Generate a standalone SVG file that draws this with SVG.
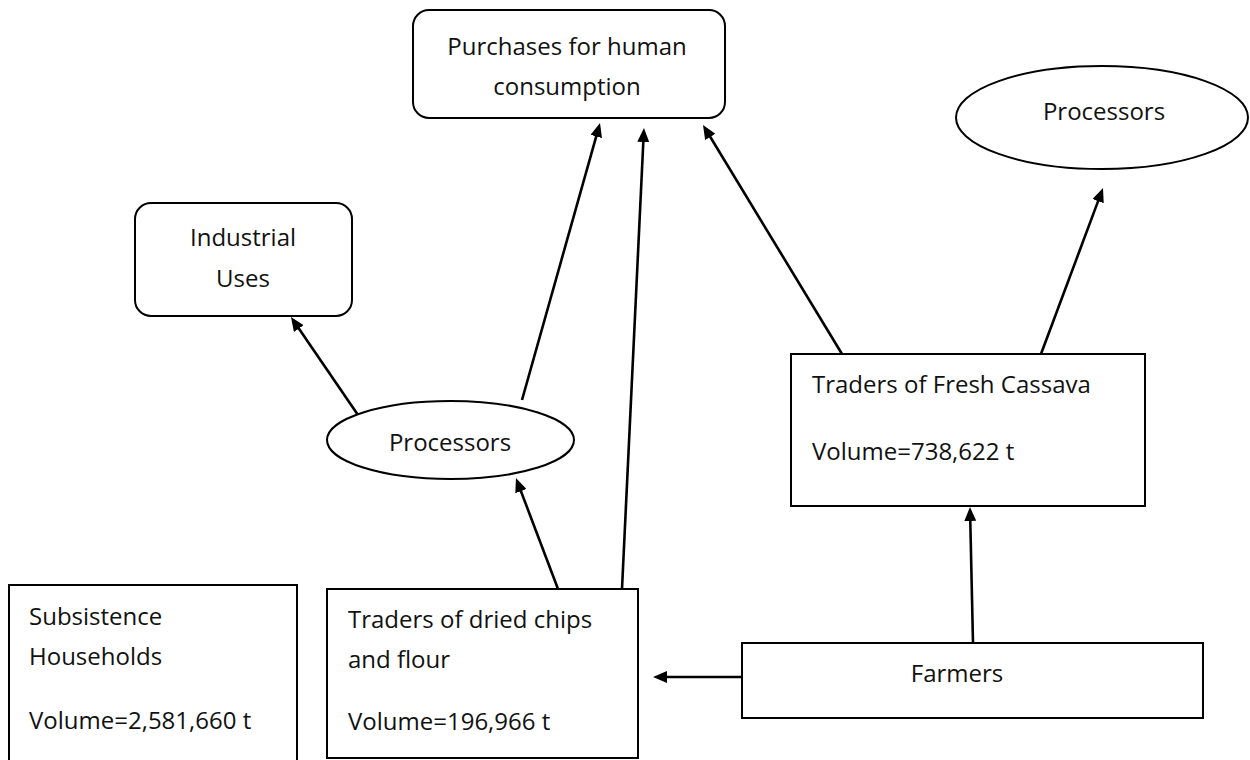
<svg xmlns="http://www.w3.org/2000/svg" width="1250" height="760" viewBox="0 0 1250 760">
<defs>
<style>
.box{fill:#fff;stroke:#000;stroke-width:2}
.t{font-family:"Open Sans","Liberation Sans",sans-serif;font-size:24px;fill:#111}
.c{text-anchor:middle}
.conn{stroke:#000;stroke-width:2.6;fill:none;marker-end:url(#ah)}
</style>
<marker id="ah" markerUnits="userSpaceOnUse" markerWidth="14" markerHeight="12" refX="4" refY="6" orient="auto">
<path d="M0,0 L14,6 L0,12 z" fill="#000"/>
</marker>
</defs>
<rect width="1250" height="760" fill="#fff"/>
<g id="connectors">
<line class="conn" x1="358" y1="415" x2="296.6" y2="325.3"/>
<line class="conn" x1="522" y1="400" x2="597.3" y2="132.6"/>
<line class="conn" x1="622" y1="589" x2="643.5" y2="138"/>
<line class="conn" x1="842" y1="354" x2="708.2" y2="133.5"/>
<line class="conn" x1="1041" y1="354" x2="1099.5" y2="197.4"/>
<line class="conn" x1="558" y1="589" x2="519.5" y2="487.4"/>
<line class="conn" x1="973" y1="643" x2="970.2" y2="517"/>
<line class="conn" x1="742" y1="677" x2="663" y2="677"/>
</g>
<g id="purchases">
<rect class="box" x="413" y="10" width="312" height="108" rx="16"/>
<text class="t c" x="567" y="55">Purchases for human</text>
<text class="t c" x="567" y="95">consumption</text>
</g>
<g id="industrial">
<rect class="box" x="135" y="203" width="217" height="113" rx="16"/>
<text class="t c" x="243" y="246">Industrial</text>
<text class="t c" x="243" y="287">Uses</text>
</g>
<g id="processors-left">
<ellipse class="box" cx="450.5" cy="440" rx="123.5" ry="39"/>
<text class="t c" x="450" y="451">Processors</text>
</g>
<g id="processors-right">
<ellipse class="box" cx="1102" cy="117.5" rx="146" ry="51.5"/>
<text class="t c" x="1104" y="120">Processors</text>
</g>
<g id="traders-fresh">
<rect class="box" x="791" y="354" width="354" height="152"/>
<text class="t" x="812" y="393">Traders of Fresh Cassava</text>
<text class="t" x="812" y="460">Volume=738,622 t</text>
</g>
<g id="farmers">
<rect class="box" x="742" y="643" width="461" height="75"/>
<text class="t c" x="957" y="682">Farmers</text>
</g>
<g id="subsistence">
<rect class="box" x="9" y="585" width="288" height="190"/>
<text class="t" x="29" y="625">Subsistence</text>
<text class="t" x="29" y="665">Households</text>
<text class="t" x="29" y="729">Volume=2,581,660 t</text>
</g>
<g id="traders-dried">
<rect class="box" x="327" y="589" width="311" height="169"/>
<text class="t" x="348" y="628">Traders of dried chips</text>
<text class="t" x="348" y="668">and flour</text>
<text class="t" x="348" y="730">Volume=196,966 t</text>
</g>
</svg>
